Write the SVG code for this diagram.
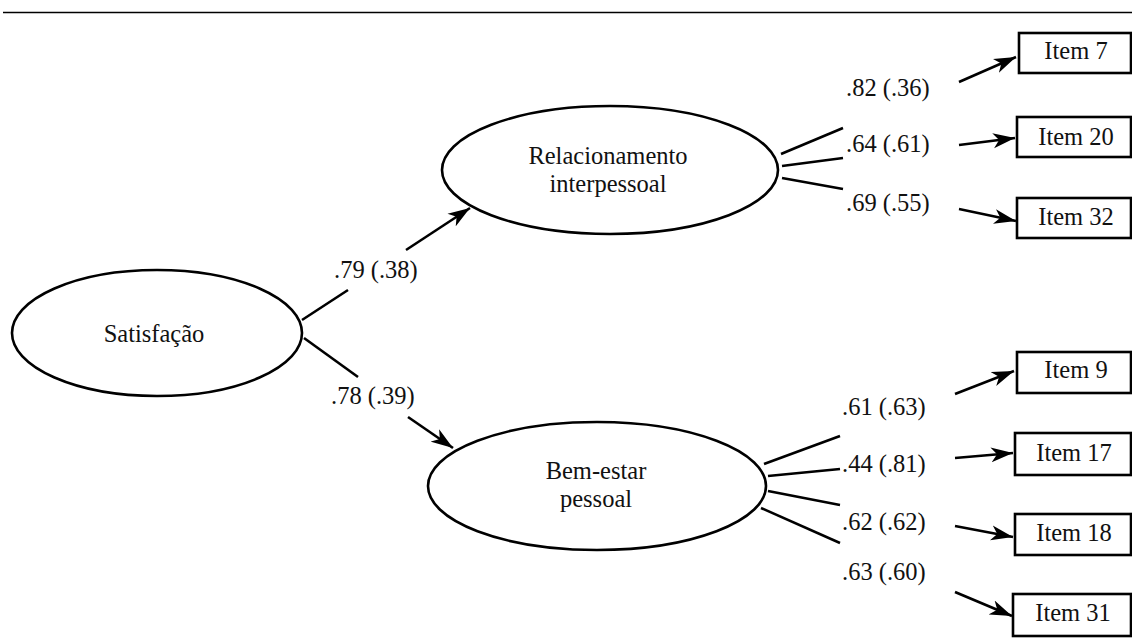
<svg xmlns="http://www.w3.org/2000/svg" width="1132" height="641" viewBox="0 0 1132 641">
<style>
text{font-family:"Liberation Serif","Times New Roman",serif;font-size:24.5px;fill:#111}
.n ellipse,.n rect{fill:#fff;stroke:#000;stroke-width:2.6}
.c line{stroke:#000;stroke-width:2.6;fill:none}
.m{text-anchor:middle}
</style>
<defs>
<marker id="ah" markerUnits="userSpaceOnUse" markerWidth="24" markerHeight="16" refX="22" refY="8" orient="auto">
<path d="M0,0.5 L22,8 L0,15.5 L6,8 z" fill="#000"/>
</marker>
</defs>
<line x1="3" y1="12.5" x2="1132" y2="12.5" stroke="#000" stroke-width="1.6"/>
<g id="satisfacao" class="n"><ellipse cx="157" cy="333" rx="145" ry="63"/><text x="154" y="342" class="m">Satisfação</text></g>
<g id="relacionamento" class="n"><ellipse cx="610" cy="170" rx="168" ry="64"/><text x="608" y="164" class="m">Relacionamento</text><text x="608" y="192" class="m">interpessoal</text></g>
<g id="bemestar" class="n"><ellipse cx="597" cy="486" rx="169" ry="64"/><text x="596" y="479" class="m">Bem-estar</text><text x="596" y="507" class="m">pessoal</text></g>
<g id="item7" class="n"><rect x="1019" y="33" width="112" height="40"/><text x="1076" y="59" class="m">Item 7</text></g>
<g id="item20" class="n"><rect x="1017" y="117" width="114" height="40"/><text x="1076" y="145" class="m">Item 20</text></g>
<g id="item32" class="n"><rect x="1017" y="198" width="114" height="40"/><text x="1076" y="225" class="m">Item 32</text></g>
<g id="item9" class="n"><rect x="1017" y="352" width="114" height="41"/><text x="1076" y="378" class="m">Item 9</text></g>
<g id="item17" class="n"><rect x="1015" y="433" width="116" height="42"/><text x="1074" y="461" class="m">Item 17</text></g>
<g id="item18" class="n"><rect x="1015" y="514" width="116" height="41"/><text x="1074" y="541" class="m">Item 18</text></g>
<g id="item31" class="n"><rect x="1013" y="594" width="118" height="42"/><text x="1073" y="621" class="m">Item 31</text></g>
<g id="connectors" class="c">
<line x1="302" y1="320" x2="348" y2="290"/>
<line x1="406" y1="250" x2="470" y2="208" marker-end="url(#ah)"/>
<line x1="304" y1="338" x2="358" y2="377"/>
<line x1="408" y1="417" x2="453" y2="448" marker-end="url(#ah)"/>
<line x1="781" y1="154" x2="843" y2="128"/>
<line x1="782" y1="166" x2="843" y2="158"/>
<line x1="782" y1="178" x2="843" y2="189"/>
<line x1="959" y1="82" x2="1016" y2="57" marker-end="url(#ah)"/>
<line x1="959" y1="145" x2="1015" y2="138" marker-end="url(#ah)"/>
<line x1="959" y1="209" x2="1016" y2="221" marker-end="url(#ah)"/>
<line x1="764" y1="464" x2="840" y2="436"/>
<line x1="768" y1="476" x2="840" y2="469"/>
<line x1="768" y1="491" x2="840" y2="505"/>
<line x1="761" y1="508" x2="840" y2="543"/>
<line x1="955" y1="394" x2="1014" y2="371" marker-end="url(#ah)"/>
<line x1="955" y1="458" x2="1013" y2="453" marker-end="url(#ah)"/>
<line x1="955" y1="526" x2="1013" y2="537" marker-end="url(#ah)"/>
<line x1="955" y1="592" x2="1012" y2="616" marker-end="url(#ah)"/>
</g>
<g id="labels">
<text x="334" y="278">.79 (.38)</text>
<text x="331" y="404">.78 (.39)</text>
<text x="846" y="96">.82 (.36)</text>
<text x="846" y="152">.64 (.61)</text>
<text x="846" y="211">.69 (.55)</text>
<text x="842" y="415">.61 (.63)</text>
<text x="842" y="472">.44 (.81)</text>
<text x="842" y="530">.62 (.62)</text>
<text x="842" y="580">.63 (.60)</text>
</g>
</svg>
